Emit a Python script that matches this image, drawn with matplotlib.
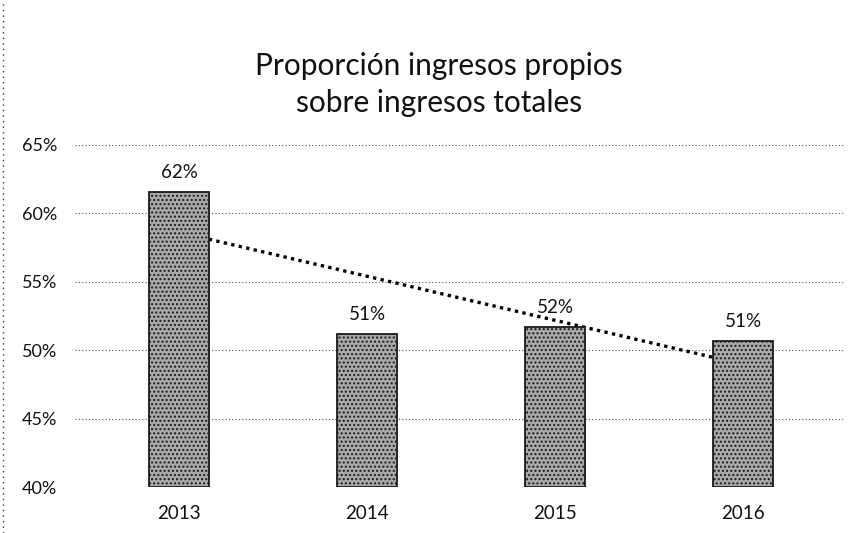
import matplotlib
matplotlib.use("Agg")
import matplotlib.pyplot as plt
import numpy as np

years = ["2013", "2014", "2015", "2016"]
values = [61.6, 51.2, 51.7, 50.7]
labels = ["62%", "51%", "52%", "51%"]
yticks = [40, 45, 50, 55, 60, 65]
ytick_labels = ["40%", "45%", "50%", "55%", "60%", "65%"]
title = "Proporción ingresos propios\nsobre ingresos totales"

plt.rcParams['font.family'] = ['Lato', 'DejaVu Sans']
plt.rcParams['hatch.linewidth'] = 1.0

fig = plt.figure(figsize=(8.52, 5.33), dpi=100)
ax = fig.add_axes([0.088, 0.086, 0.904, 0.642])

x = np.arange(len(years))
ax.bar(x, [v - 40 for v in values], bottom=40, width=0.32,
       facecolor="#a9a9a9", edgecolor="#1a1a1a", hatch="....",
       linewidth=1.3, zorder=3)

# linear trendline
coef = np.polyfit(x, values, 1)
tx = np.array([0, 3])
ax.plot(tx, np.polyval(coef, tx), linestyle=(0, (1, 1.3)), color="black",
        linewidth=2.4, zorder=2)

for xi, v, lab in zip(x, values, labels):
    ax.text(xi, v + 0.8, lab, ha="center", va="bottom", fontsize=13.5,
            color="#111111")

ax.set_xlim(-0.553, 3.543)
ax.set_ylim(40, 65)
ax.set_yticks(yticks)
ax.set_yticklabels(ytick_labels, fontsize=13, color="#111111")
ax.set_xticks(x)
ax.set_xticklabels(years, fontsize=13.5, color="#111111")
ax.tick_params(axis="both", length=0)
ax.tick_params(axis="y", pad=13)
ax.tick_params(axis="x", pad=13)
ax.grid(axis="y", linestyle=(0, (1, 2)), color="#555555", linewidth=0.8, zorder=0)
ax.set_axisbelow(True)
for s in ax.spines.values():
    s.set_visible(False)

fig.text(0.515, 0.842, title, ha="center", va="center", fontsize=21.5,
         color="#111111", linespacing=1.4)

# dotted left border of the scanned chart frame
fig.add_artist(plt.Line2D([0.004, 0.004], [0.0, 1.0], transform=fig.transFigure,
                          linestyle=(0, (1, 3)), color="#333333", linewidth=1))

fig.savefig("out.png", dpi=100)
